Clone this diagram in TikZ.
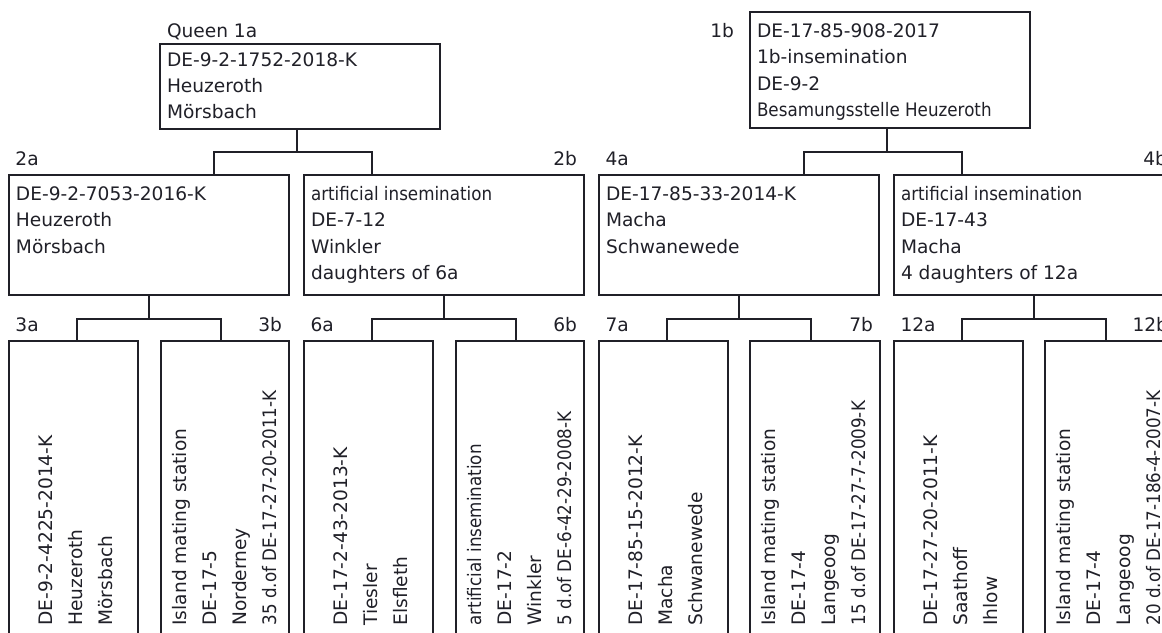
\documentclass[tikz,border=0pt]{standalone}
\usepackage{fontspec}
\setmainfont{DejaVu Sans}
\usepackage{graphicx}
\usetikzlibrary{calc}
\definecolor{lc}{HTML}{202028}
\newcommand{\condtext}[1]{\scalebox{0.9}[1]{#1}}
\begin{document}
\begin{tikzpicture}[x=1pt,y=-1pt,
 boxst/.style={draw=lc, line width=1.3pt, inner sep=0pt, outer sep=0pt, anchor=north west},
 conn/.style={draw=lc, line width=1.3pt},
 txt/.style={inner sep=0pt, outer sep=0pt, anchor=base west, text=lc, font=\fontsize{18.6}{26.6}\selectfont},
 rtxt/.style={inner sep=0pt, outer sep=0pt, anchor=base west, text=lc, rotate=90, font=\fontsize{18.6}{30}\selectfont},
 lab/.style={inner sep=0pt, outer sep=0pt, text=lc, font=\fontsize{18.6}{22}\selectfont}]
\useasboundingbox (0,0) rectangle (1162,632);
\clip (0,0) rectangle (1162,632);

% ---- boxes ----
\node[boxst, minimum width=280pt, minimum height=85pt] (b1a) at (160,44) {};
\node[boxst, minimum width=280pt, minimum height=116pt] (b1b) at (750,12) {};
\node[boxst, minimum width=280pt, minimum height=120pt] (b2a) at (9,175) {};
\node[boxst, minimum width=280pt, minimum height=120pt] (b2b) at (304,175) {};
\node[boxst, minimum width=280pt, minimum height=120pt] (b4a) at (599,175) {};
\node[boxst, minimum width=280pt, minimum height=120pt] (b4b) at (894,175) {};
\node[boxst, minimum width=129pt, minimum height=320pt] (b3a) at (9,341) {};
\node[boxst, minimum width=128pt, minimum height=320pt] (b3b) at (161,341) {};
\node[boxst, minimum width=129pt, minimum height=320pt] (b6a) at (304,341) {};
\node[boxst, minimum width=128pt, minimum height=320pt] (b6b) at (456,341) {};
\node[boxst, minimum width=129pt, minimum height=320pt] (b7a) at (599,341) {};
\node[boxst, minimum width=130pt, minimum height=320pt] (b7b) at (750,341) {};
\node[boxst, minimum width=129pt, minimum height=320pt] (b12a) at (894,341) {};
\node[boxst, minimum width=130pt, minimum height=320pt] (b12b) at (1045,341) {};

% ---- connectors ----
\draw[conn] ([xshift=-3pt]b1a.south) -- ++(0,23) coordinate (j1a);
\draw[conn] ([xshift=65pt]b2a.north) |- (j1a) -| ([xshift=-72pt]b2b.north);
\draw[conn] ([xshift=-3pt]b1b.south) -- ++(0,24) coordinate (j1b);
\draw[conn] ([xshift=65pt]b4a.north) |- (j1b) -| ([xshift=-72pt]b4b.north);
\draw[conn] (b2a.south) -- ++(0,24) coordinate (j2a);
\draw[conn] ([xshift=3.5pt]b3a.north) |- (j2a) -| ([xshift=-4pt]b3b.north);
\draw[conn] (b2b.south) -- ++(0,24) coordinate (j2b);
\draw[conn] ([xshift=3.5pt]b6a.north) |- (j2b) -| ([xshift=-4pt]b6b.north);
\draw[conn] (b4a.south) -- ++(0,24) coordinate (j4a);
\draw[conn] ([xshift=3.5pt]b7a.north) |- (j4a) -| ([xshift=-4pt]b7b.north);
\draw[conn] (b4b.south) -- ++(0,24) coordinate (j4b);
\draw[conn] ([xshift=3.5pt]b12a.north) |- (j4b) -| ([xshift=-4pt]b12b.north);

% ---- labels ----
\node[lab, anchor=base west] (l1a) at ($(b1a.north west)+(7,-7)$) {Queen 1a};
\node[lab, anchor=base east] (l1b) at ($(b1b.north west)+(-16,25)$) {1b};
\node[lab, anchor=base west] (l2a) at ($(b2a.north west)+(6.5,-9.3)$) {2a};
\node[lab, anchor=base east] (l2b) at ($(b2b.north east)+(-7,-9.3)$) {2b};
\node[lab, anchor=base west] (l4a) at ($(b4a.north west)+(6.5,-9.3)$) {4a};
\node[lab, anchor=base east] (l4b) at ($(b4b.north east)+(-7,-9.3)$) {4b};
\node[lab, anchor=base west] (l3a) at ($(b3a.north west)+(6.5,-9.3)$) {3a};
\node[lab, anchor=base east] (l3b) at ($(b3b.north east)+(-7,-9.3)$) {3b};
\node[lab, anchor=base west] (l6a) at ($(b6a.north west)+(6.5,-9.3)$) {6a};
\node[lab, anchor=base east] (l6b) at ($(b6b.north east)+(-7,-9.3)$) {6b};
\node[lab, anchor=base west] (l7a) at ($(b7a.north west)+(6.5,-9.3)$) {7a};
\node[lab, anchor=base east] (l7b) at ($(b7b.north east)+(-7,-9.3)$) {7b};
\node[lab, anchor=base west] (l12a) at ($(b12a.north west)+(6.5,-9.3)$) {12a};
\node[lab, anchor=base east] (l12b) at ($(b12b.north east)+(-7,-9.3)$) {12b};

% ---- box texts ----
\node[txt, font=\fontsize{18.6}{25.8}\selectfont] (t1a) at ($(b1a.north west)+(7,22.7)$)
  {\begin{tabular}[t]{@{}l@{}}DE-9-2-1752-2018-K\\Heuzeroth\\Mörsbach\end{tabular}};
\node[txt] (t1b) at ($(b1b.north west)+(7,25)$)
  {\begin{tabular}[t]{@{}l@{}}DE-17-85-908-2017\\1b-insemination\\DE-9-2\\\condtext{Besamungsstelle Heuzeroth}\end{tabular}};
\node[txt] (t2a) at ($(b2a.north west)+(7,25)$)
  {\begin{tabular}[t]{@{}l@{}}DE-9-2-7053-2016-K\\Heuzeroth\\Mörsbach\end{tabular}};
\node[txt] (t2b) at ($(b2b.north west)+(7,25)$)
  {\begin{tabular}[t]{@{}l@{}}\condtext{artificial insemination}\\DE-7-12\\Winkler\\daughters of 6a\end{tabular}};
\node[txt] (t4a) at ($(b4a.north west)+(7,25)$)
  {\begin{tabular}[t]{@{}l@{}}DE-17-85-33-2014-K\\Macha\\Schwanewede\end{tabular}};
\node[txt] (t4b) at ($(b4b.north west)+(7,25)$)
  {\begin{tabular}[t]{@{}l@{}}\condtext{artificial insemination}\\DE-17-43\\Macha\\4 daughters of 12a\end{tabular}};

% ---- rotated texts ----
\node[rtxt] (t3a) at ($(b3a.north west)+(43.5,284.5)$)
  {\begin{tabular}[t]{@{}l@{}}DE-9-2-4225-2014-K\\Heuzeroth\\Mörsbach\end{tabular}};
\node[rtxt] (t3b) at ($(b3b.north west)+(25,284.5)$)
  {\begin{tabular}[t]{@{}l@{}}Island mating station\\DE-17-5\\Norderney\\\condtext{35 d.of DE-17-27-20-2011-K}\end{tabular}};
\node[rtxt] (t6a) at ($(b6a.north west)+(43.5,284.5)$)
  {\begin{tabular}[t]{@{}l@{}}DE-17-2-43-2013-K\\Tiesler\\Elsfleth\end{tabular}};
\node[rtxt] (t6b) at ($(b6b.north west)+(25,284.5)$)
  {\begin{tabular}[t]{@{}l@{}}\condtext{artificial insemination}\\DE-17-2\\Winkler\\\condtext{5 d.of DE-6-42-29-2008-K}\end{tabular}};
\node[rtxt] (t7a) at ($(b7a.north west)+(43.5,284.5)$)
  {\begin{tabular}[t]{@{}l@{}}DE-17-85-15-2012-K\\Macha\\Schwanewede\end{tabular}};
\node[rtxt] (t7b) at ($(b7b.north west)+(25,284.5)$)
  {\begin{tabular}[t]{@{}l@{}}Island mating station\\DE-17-4\\Langeoog\\\condtext{15 d.of DE-17-27-7-2009-K}\end{tabular}};
\node[rtxt] (t12a) at ($(b12a.north west)+(43.5,284.5)$)
  {\begin{tabular}[t]{@{}l@{}}DE-17-27-20-2011-K\\Saathoff\\Ihlow\end{tabular}};
\node[rtxt] (t12b) at ($(b12b.north west)+(25,284.5)$)
  {\begin{tabular}[t]{@{}l@{}}Island mating station\\DE-17-4\\Langeoog\\\condtext{20 d.of DE-17-186-4-2007-K}\end{tabular}};
\end{tikzpicture}
\end{document}
